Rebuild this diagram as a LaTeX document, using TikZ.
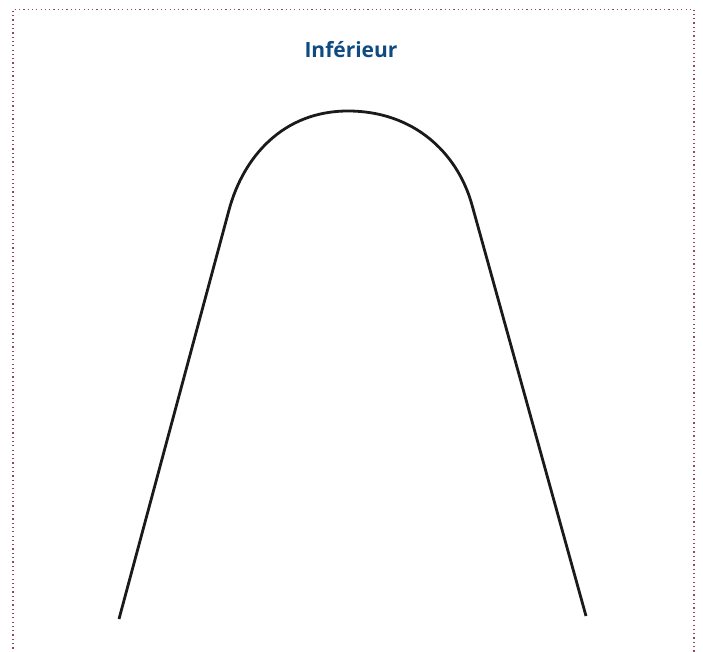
\documentclass[tikz,border=0pt]{standalone}
\usepackage{fontspec}
\setsansfont{Open Sans}
\usetikzlibrary{positioning}
\definecolor{titleblue}{RGB}{16,74,130}
\definecolor{framemauve}{RGB}{150,70,100}
\definecolor{wire}{RGB}{26,26,26}

\begin{document}
\begin{tikzpicture}[x=1pt, y=-1pt]
  \useasboundingbox (0,0) rectangle (703,652);
  % dotted frame, bottom edge lies below the page
  \draw[framemauve, line width=1.2pt, dash pattern=on 1.2pt off 3.1pt]
    (13,670) -- (13,9.5) -- (694,9.5) -- (694,670);

  \node[font=\sffamily\bfseries\fontsize{21}{25}\selectfont, text=titleblue]
    (title) at (351,50) {Inférieur};

  % arch
  \coordinate (lfoot) at (119,619);
  \coordinate (lknee) at (229,210);
  \coordinate (apex)  at (348,111);
  \coordinate (rknee) at (472,205);
  \coordinate (rfoot) at (586,616);
  \draw[wire, line width=2.8pt, line join=round]
    (lfoot) -- (lknee)
    .. controls (243.3,156.9) and (283,111) .. (apex)
    .. controls (413,111) and (457.3,152) .. (rknee)
    -- (rfoot);
\end{tikzpicture}
\end{document}
